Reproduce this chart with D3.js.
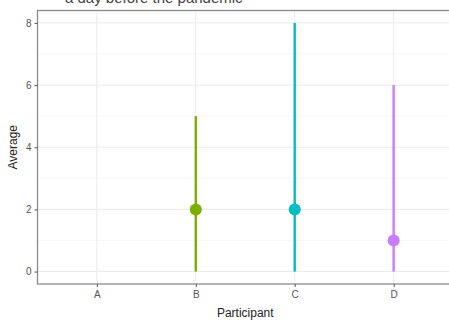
<!DOCTYPE html>
<html>
<head>
<meta charset="utf-8">
<script src="https://cdn.jsdelivr.net/npm/d3@7"></script>
<style>
  body { margin: 0; background: #fff; }
  text { font-family: "Liberation Sans", Arial, sans-serif; }
</style>
</head>
<body>
<div id="chart"></div>
<script>
// participants and their summary values (A has no data)
var participants = ['A', 'B', 'C', 'D'];
var seriesKeys = ['B', 'C', 'D'];
var means = [2, 2, 1];
var lows = [0, 0, 0];
var highs = [5, 8, 6];
var colors = ['#7CAE00', '#00BFC4', '#C77CFF'];
var yTicks = [0, 2, 4, 6, 8];
var yMinor = [1, 3, 5, 7];

var width = 449, height = 322;
var margin = { left: 37.5, top: 10.5, right: -4, bottom: 38 };

var svg = d3.select('#chart').append('svg')
  .attr('width', width)
  .attr('height', height);

// title, mostly cut off at the top
svg.append('text')
  .attr('x', 65).attr('y', 3)
  .attr('font-size', 15)
  .attr('fill', '#444')
  .text('a day before the pandemic');

var x = d3.scalePoint()
  .domain(participants)
  .range([margin.left, width - margin.right])
  .padding(0.6);

var y = d3.scaleLinear()
  .domain([-0.4, 8.4])
  .range([height - margin.bottom, margin.top]);

var plot = svg.append('g');

// grid
plot.selectAll('.minor').data(yMinor).enter().append('line')
  .attr('x1', margin.left).attr('x2', width - margin.right)
  .attr('y1', function(d){ return y(d); }).attr('y2', function(d){ return y(d); })
  .attr('stroke', '#f2f2f2').attr('stroke-width', 0.6);
plot.selectAll('.major').data(yTicks).enter().append('line')
  .attr('x1', margin.left).attr('x2', width - margin.right)
  .attr('y1', function(d){ return y(d); }).attr('y2', function(d){ return y(d); })
  .attr('stroke', '#ebebeb').attr('stroke-width', 1);
plot.selectAll('.vgrid').data(participants).enter().append('line')
  .attr('x1', function(d){ return x(d); }).attr('x2', function(d){ return x(d); })
  .attr('y1', margin.top).attr('y2', height - margin.bottom)
  .attr('stroke', '#ebebeb').attr('stroke-width', 1);

// range lines and mean points
var marks = seriesKeys.map(function(k, i){
  return { key: k, mean: means[i], lo: lows[i], hi: highs[i], color: colors[i] };
});

plot.selectAll('.range').data(marks).enter().append('line')
  .attr('x1', function(d){ return x(d.key); }).attr('x2', function(d){ return x(d.key); })
  .attr('y1', function(d){ return y(d.lo); }).attr('y2', function(d){ return y(d.hi); })
  .attr('stroke', function(d){ return d.color; })
  .attr('stroke-width', 2.4);

plot.selectAll('.pt').data(marks).enter().append('circle')
  .attr('cx', function(d){ return x(d.key); })
  .attr('cy', function(d){ return y(d.mean); })
  .attr('r', 6)
  .attr('fill', function(d){ return d.color; });

// panel border
svg.append('rect')
  .attr('x', margin.left).attr('y', margin.top)
  .attr('width', width - margin.right - margin.left)
  .attr('height', height - margin.bottom - margin.top)
  .attr('fill', 'none')
  .attr('stroke', '#8a8a8a').attr('stroke-width', 1.3);

// axes
var yAxis = svg.append('g')
  .attr('transform', 'translate(' + margin.left + ',0)')
  .call(d3.axisLeft(y).tickValues(yTicks).tickSize(3).tickPadding(3));
var xAxis = svg.append('g')
  .attr('transform', 'translate(0,' + (height - margin.bottom) + ')')
  .call(d3.axisBottom(x).tickSize(3).tickPadding(4));

[yAxis, xAxis].forEach(function(a){
  a.select('.domain').remove();
  a.selectAll('line').attr('stroke', '#555');
  a.selectAll('text').attr('fill', '#555').attr('font-size', 10)
    .style('font-family', '"Liberation Sans", Arial, sans-serif');
});

svg.append('text')
  .attr('x', (margin.left + width - margin.right) / 2)
  .attr('y', 317)
  .attr('text-anchor', 'middle')
  .attr('font-size', 12)
  .attr('fill', '#222')
  .text('Participant');

svg.append('text')
  .attr('transform', 'translate(17,' + ((margin.top + height - margin.bottom) / 2) + ') rotate(-90)')
  .attr('text-anchor', 'middle')
  .attr('font-size', 12)
  .attr('fill', '#222')
  .text('Average');
</script>
</body>
</html>
